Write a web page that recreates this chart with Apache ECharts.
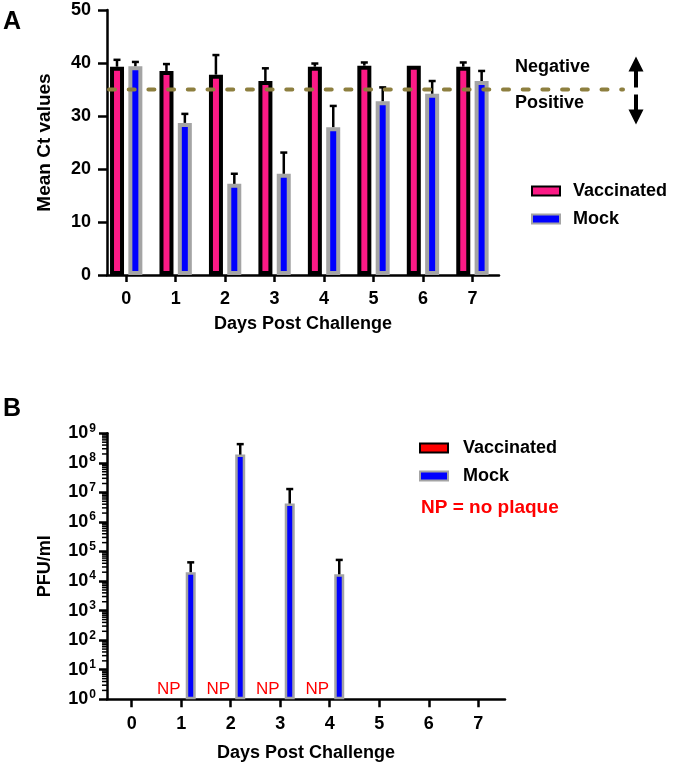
<!DOCTYPE html>
<html>
<head>
<meta charset="utf-8">
<script src="https://cdn.jsdelivr.net/npm/echarts@6/dist/echarts.min.js"></script>
<style>html,body{margin:0;padding:0;background:#fff}#c{width:675px;height:766px}</style>
</head>
<body>
<div id="c"></div>
<script>
// ---------- data ----------
const days = [0, 1, 2, 3, 4, 5, 6, 7];
const ctTicks = [0, 10, 20, 30, 40, 50];
const ctVaccinated = [39.3, 38.5, 37.8, 36.6, 39.3, 39.5, 39.5, 39.3];
const ctVaccinatedSD = [1.3, 1.3, 3.7, 2.4, 0.6, 0.6, 0, 0.8];
const ctMock = [39.4, 28.7, 17.2, 19.1, 27.9, 32.8, 34.2, 36.6];
const ctMockSD = [0.8, 1.7, 1.9, 4.0, 4.0, 2.6, 2.4, 1.9];
const ctCutoff = 35;
const pfuDays = [1, 2, 3, 4];
const pfuMock = [2.0e4, 1.9e8, 4.2e6, 1.7e4];
const pfuMockUpper = [4.3e4, 4.3e8, 1.3e7, 5.2e4];
const pfuVaccinated = [];
const npDays = [1, 2, 3, 4];
const pfuExponents = [0, 1, 2, 3, 4, 5, 6, 7, 8, 9];

// ---------- styles ----------
const FONT = '"Liberation Sans", Arial, sans-serif';
const PINK = '#fc1a86';
const BLUE = '#0000ff';
const GREY = '#a4a4a4';
const OLIVE = '#8d7f3f';

const chart = echarts.init(document.getElementById('c'), null, {renderer: 'canvas'});

function errBar(offset) {
  return function (params, api) {
    const x = api.value(0), lo = api.value(1), hi = api.value(2);
    if (!(hi > lo)) return {type: 'group', children: []};
    const p1 = api.coord([x, lo]);
    const p2 = api.coord([x, hi]);
    const cx = p1[0] + offset;
    return {
      type: 'group',
      children: [
        {type: 'line', shape: {x1: cx, y1: p1[1], x2: cx, y2: p2[1]}, style: {stroke: '#000', lineWidth: 2.5}},
        {type: 'line', shape: {x1: cx - 3.5, y1: p2[1], x2: cx + 3.5, y2: p2[1]}, style: {stroke: '#000', lineWidth: 2.5}}
      ]
    };
  };
}

const axisLineStyle = {color: '#000', width: 2.5};
const tickLabel = {color: '#000', fontFamily: FONT, fontWeight: 'bold', fontSize: 18};
const nameStyle = {color: '#000', fontFamily: FONT, fontWeight: 'bold', fontSize: 18};

const minorLogTicks = [];
for (let e = 0; e < 9; e++) for (let m = 2; m <= 9; m++) minorLogTicks.push([0, m * Math.pow(10, e)]);

const option = {
  animation: false,
  backgroundColor: '#fff',
  textStyle: {fontFamily: FONT},
  grid: [
    {left: 107, top: 10, width: 392, height: 265},
    {left: 107, top: 433.3, width: 398, height: 266}
  ],
  xAxis: [
    {
      gridIndex: 0, type: 'value', min: -0.388, max: 7.537,
      splitLine: {show: false},
      axisLine: {onZero: false, lineStyle: axisLineStyle},
      axisTick: {customValues: days, length: 7, lineStyle: {color: '#000', width: 2.5}},
      axisLabel: {customValues: days, margin: 15, ...tickLabel},
      name: 'Days Post Challenge', nameLocation: 'middle', nameGap: 40, nameTextStyle: nameStyle
    },
    {
      gridIndex: 1, type: 'value', min: -0.499, max: 7.54,
      splitLine: {show: false},
      axisLine: {onZero: false, lineStyle: axisLineStyle},
      axisTick: {customValues: days, length: 8, lineStyle: {color: '#000', width: 2.5}},
      axisLabel: {customValues: days, margin: 16, ...tickLabel},
      name: 'Days Post Challenge', nameLocation: 'middle', nameGap: 45, nameTextStyle: nameStyle
    }
  ],
  yAxis: [
    {
      gridIndex: 0, type: 'value', min: ctTicks[0], max: ctTicks[ctTicks.length - 1], interval: 10,
      splitLine: {show: false},
      axisLine: {show: true, onZero: false, lineStyle: axisLineStyle},
      axisTick: {show: true, length: 9, lineStyle: {color: '#000', width: 2.5}},
      axisLabel: {margin: 16, ...tickLabel},
      name: 'Mean Ct values', nameLocation: 'middle', nameGap: 53, nameRotate: 90,
      nameTextStyle: {...nameStyle, fontSize: 19}
    },
    {
      gridIndex: 1, type: 'log', logBase: 10,
      min: Math.pow(10, pfuExponents[0]), max: Math.pow(10, pfuExponents[pfuExponents.length - 1]),
      splitLine: {show: false},
      axisLine: {show: true, onZero: false, lineStyle: axisLineStyle},
      axisTick: {show: true, length: 8, lineStyle: {color: '#000', width: 2.5}},
      axisLabel: {
        margin: 11,
        formatter: function (v) { return '{a|10}{b|' + Math.round(Math.log10(v)) + '}'; },
        rich: {
          a: {color: '#000', fontFamily: FONT, fontWeight: 'bold', fontSize: 18},
          b: {color: '#000', fontFamily: FONT, fontWeight: 'bold', fontSize: 12, padding: [0, 0, 10, 1]}
        }
      },
      name: 'PFU/ml', nameLocation: 'middle', nameGap: 53, nameRotate: 90,
      nameTextStyle: {...nameStyle, fontSize: 18}
    }
  ],
  legend: [
    {
      data: ['Vaccinated', 'Mock'], left: 526, top: 177, orient: 'vertical', itemGap: 10,
      itemWidth: 28, itemHeight: 9, icon: 'rect', selectedMode: false,
      textStyle: {color: '#000', fontFamily: FONT, fontWeight: 'bold', fontSize: 18, padding: [0, 0, 0, 8]}
    },
    {
      data: ['Vaccinated (PFU)', 'Mock (PFU)'], left: 414, top: 434, orient: 'vertical', itemGap: 10,
      itemWidth: 28, itemHeight: 9, icon: 'rect', selectedMode: false,
      formatter: function (n) { return n.replace(' (PFU)', ''); },
      textStyle: {color: '#000', fontFamily: FONT, fontWeight: 'bold', fontSize: 18, padding: [0, 0, 0, 10]}
    }
  ],
  series: [
    {
      name: 'Vaccinated', type: 'bar', xAxisIndex: 0, yAxisIndex: 0,
      barWidth: 14, barGap: '31%',
      itemStyle: {color: PINK, borderColor: '#000', borderWidth: 4},
      data: days.map((d, i) => [d, ctVaccinated[i]])
    },
    {
      name: 'Mock', type: 'bar', xAxisIndex: 0, yAxisIndex: 0,
      barWidth: 14, barGap: '31%',
      itemStyle: {color: BLUE, borderColor: GREY, borderWidth: 4},
      data: days.map((d, i) => [d, ctMock[i]])
    },
    {
      type: 'custom', xAxisIndex: 0, yAxisIndex: 0, z: 5,
      renderItem: errBar(-9.2), encode: {x: 0, y: [1, 2]},
      data: days.map((d, i) => [d, ctVaccinated[i], ctVaccinated[i] + ctVaccinatedSD[i]])
    },
    {
      type: 'custom', xAxisIndex: 0, yAxisIndex: 0, z: 5,
      renderItem: errBar(9.2), encode: {x: 0, y: [1, 2]},
      data: days.map((d, i) => [d, ctMock[i], ctMock[i] + ctMockSD[i]])
    },
    {
      // cutoff line with Negative/Positive annotation
      type: 'custom', xAxisIndex: 0, yAxisIndex: 0, z: 6,
      encode: {x: 0, y: 1},
      data: [[days[0], ctCutoff]],
      renderItem: function (params, api) {
        const y = api.coord([api.value(0), api.value(1)])[1];
        const x0 = params.coordSys.x;
        const ax = 636;
        return {
          type: 'group',
          children: [
            {type: 'line', shape: {x1: x0 + 2, y1: y, x2: 623, y2: y},
              style: {stroke: OLIVE, lineWidth: 4, lineDash: [6, 13.7], lineCap: 'round'}},
            {type: 'text', style: {x: 515, y: y - 22.5, text: 'Negative', fill: '#000',
              font: 'bold 18px ' + FONT, verticalAlign: 'middle', align: 'left'}},
            {type: 'text', style: {x: 515, y: y + 14, text: 'Positive', fill: '#000',
              font: 'bold 18px ' + FONT, verticalAlign: 'middle', align: 'left'}},
            {type: 'polygon', shape: {points: [[ax, y - 33], [ax - 7.5, y - 18], [ax + 7.5, y - 18]]}, style: {fill: '#000'}},
            {type: 'rect', shape: {x: ax - 2, y: y - 19, width: 4, height: 17}, style: {fill: '#000'}},
            {type: 'rect', shape: {x: ax - 2, y: y + 5, width: 4, height: 16}, style: {fill: '#000'}},
            {type: 'polygon', shape: {points: [[ax, y + 35], [ax - 7.5, y + 20], [ax + 7.5, y + 20]]}, style: {fill: '#000'}}
          ]
        };
      }
    },
    // ---------- panel B ----------
    {
      name: 'Vaccinated (PFU)', type: 'bar', xAxisIndex: 1, yAxisIndex: 1,
      barWidth: 10, barGap: '90%',
      itemStyle: {color: '#ff0000', borderColor: '#000', borderWidth: 2.5},
      data: pfuVaccinated
    },
    {
      name: 'Mock (PFU)', type: 'bar', xAxisIndex: 1, yAxisIndex: 1,
      barWidth: 10, barGap: '90%',
      itemStyle: {color: BLUE, borderColor: GREY, borderWidth: 2.5},
      data: pfuDays.map((d, i) => [d, pfuMock[i]])
    },
    {
      type: 'custom', xAxisIndex: 1, yAxisIndex: 1, z: 5,
      renderItem: errBar(9.5), encode: {x: 0, y: [1, 2]},
      data: pfuDays.map((d, i) => [d, pfuMock[i], pfuMockUpper[i]])
    },
    {
      // "NP" labels at baseline
      type: 'custom', xAxisIndex: 1, yAxisIndex: 1, z: 5,
      encode: {x: 0, y: 1},
      data: npDays.map(d => [d, 1]),
      renderItem: function (params, api) {
        const p = api.coord([api.value(0), api.value(1)]);
        return {type: 'text', style: {x: p[0] - 12.5, y: p[1] - 1, text: 'NP', fill: '#ff0000',
          font: '17px ' + FONT, align: 'center', verticalAlign: 'bottom'}};
      }
    },
    {
      // minor log ticks
      type: 'custom', xAxisIndex: 1, yAxisIndex: 1, z: 4, silent: true,
      encode: {x: 0, y: 1},
      data: minorLogTicks,
      renderItem: function (params, api) {
        const y = api.coord([0, api.value(1)])[1];
        const x = params.coordSys.x;
        return {type: 'line', shape: {x1: x - 5, y1: y, x2: x, y2: y}, style: {stroke: '#000', lineWidth: 1.5}};
      }
    }
  ],
  graphic: [
    {type: 'text', left: 3, top: 10, style: {text: 'A', font: 'bold 25px ' + FONT, fill: '#000'}},
    {type: 'text', left: 3, top: 397, style: {text: 'B', font: 'bold 25px ' + FONT, fill: '#000'}},
    {type: 'text', left: 421, top: 498, style: {text: 'NP = no plaque', font: 'bold 19px ' + FONT, fill: '#ff0000'}}
  ]
};
chart.setOption(option);
</script>
</body>
</html>
